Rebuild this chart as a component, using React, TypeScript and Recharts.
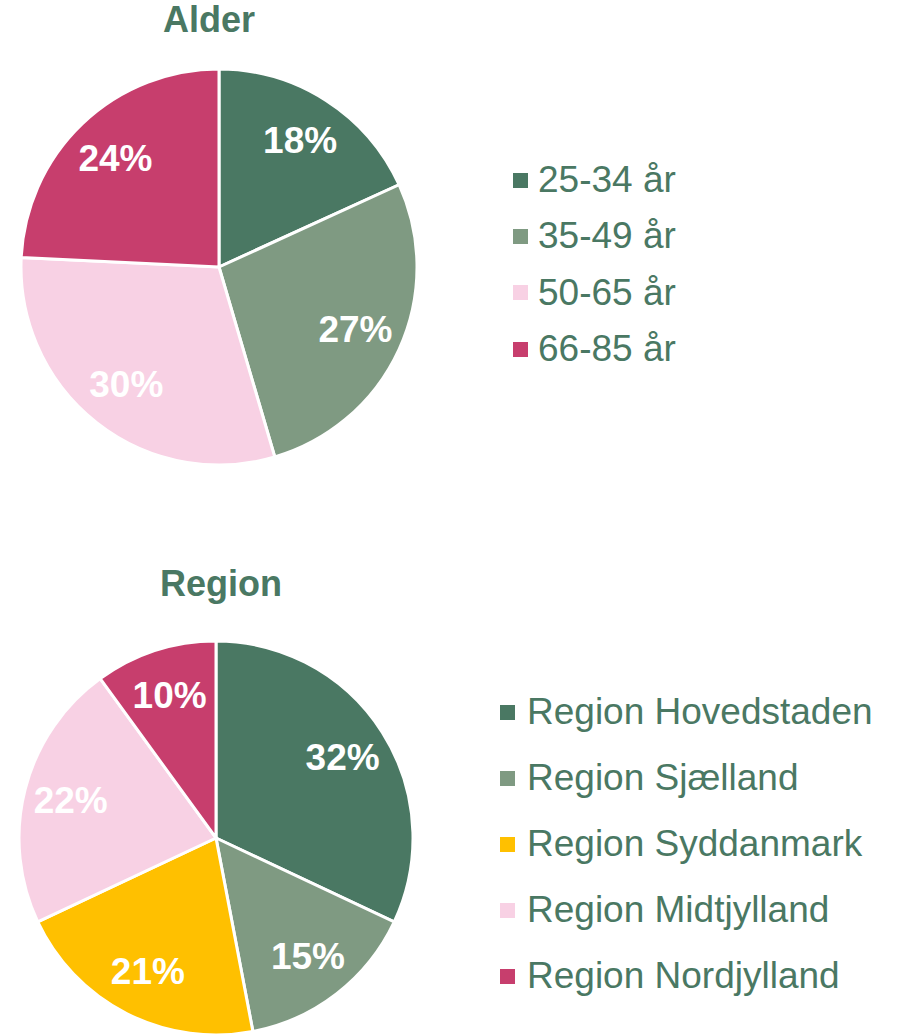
import { PieChart, Pie, Cell, Legend } from 'recharts';

const ageLabels = ['25-34 år', '35-49 år', '50-65 år', '66-85 år'];
const ageValues = [18, 27, 30, 24];
const ageColors = ['#4A7863', '#7F9A82', '#F8D1E4', '#C73E6D'];

const regionLabels = ['Region Hovedstaden', 'Region Sjælland', 'Region Syddanmark', 'Region Midtjylland', 'Region Nordjylland'];
const regionValues = [32, 15, 21, 22, 10];
const regionColors = ['#4A7863', '#7F9A82', '#FFC000', '#F8D1E4', '#C73E6D'];

const ageData = ageLabels.map((name, i) => ({ name, value: ageValues[i] }));
const regionData = regionLabels.map((name, i) => ({ name, value: regionValues[i] }));

const GREEN = '#4A7863';
const FONT = '"Liberation Sans", Arial, sans-serif';
const RAD = Math.PI / 180;
const NO_MARGIN = { top: 0, right: 0, bottom: 0, left: 0 };

const renderLabel = ({ cx, cy, midAngle, value }: any) => {
  const r = 150;
  const x = cx + r * Math.cos(-midAngle * RAD);
  const y = cy + r * Math.sin(-midAngle * RAD);
  return (
    <text x={x} y={y} fill="#fff" textAnchor="middle" dominantBaseline="central"
      style={{ fontFamily: FONT, fontSize: 37, fontWeight: 700 }}>
      {`${value}%`}
    </text>
  );
};

function makeLegend(labels: string[], colors: string[], fontSize: number, rowH: number, gap: number) {
  return () => (
    <div style={{ fontFamily: FONT }}>
      {labels.map((l, i) => (
        <div key={l} style={{ display: 'flex', alignItems: 'center', height: rowH, fontSize, color: GREEN, whiteSpace: 'nowrap' }}>
          <span style={{ display: 'inline-block', width: 15, height: 15, background: colors[i], marginRight: gap }} />
          <span>{l}</span>
        </div>
      ))}
    </div>
  );
}

export default function App() {
  return (
    <div style={{ position: 'absolute', left: 0, top: 0, width: 902, height: 1035, background: '#fff', overflow: 'hidden' }}>
      <div style={{ position: 'absolute', left: 0, top: 0, width: 418, textAlign: 'center', fontFamily: FONT, fontWeight: 700, fontSize: 36, lineHeight: '40px', color: GREEN }}>
        Alder
      </div>
      <div style={{ position: 'absolute', top: 0, left: 0 }}>
        <PieChart width={902} height={517} margin={NO_MARGIN}>
          <Pie data={ageData} dataKey="value" nameKey="name" cx={219} cy={267} outerRadius={198}
            startAngle={90} endAngle={-270} stroke="#fff" strokeWidth={3}
            label={renderLabel} labelLine={false} isAnimationActive={false}>
            {ageData.map((d, i) => <Cell key={d.name} fill={ageColors[i]} />)}
          </Pie>
          <Legend layout="vertical" content={makeLegend(ageLabels, ageColors, 37, 56.3, 10)}
            wrapperStyle={{ position: 'absolute', left: 513, top: 152, width: 300 }} />
        </PieChart>
      </div>

      <div style={{ position: 'absolute', left: 12, top: 564, width: 418, textAlign: 'center', fontFamily: FONT, fontWeight: 700, fontSize: 36, lineHeight: '40px', color: GREEN }}>
        Region
      </div>
      <div style={{ position: 'absolute', top: 517, left: 0 }}>
        <PieChart width={902} height={518} margin={NO_MARGIN}>
          <Pie data={regionData} dataKey="value" nameKey="name" cx={216} cy={321} outerRadius={197}
            startAngle={90} endAngle={-270} stroke="#fff" strokeWidth={3}
            label={renderLabel} labelLine={false} isAnimationActive={false}>
            {regionData.map((d, i) => <Cell key={d.name} fill={regionColors[i]} />)}
          </Pie>
          <Legend layout="vertical" content={makeLegend(regionLabels, regionColors, 37, 66, 12)}
            wrapperStyle={{ position: 'absolute', left: 500, top: 162, width: 400 }} />
        </PieChart>
      </div>
    </div>
  );
}
